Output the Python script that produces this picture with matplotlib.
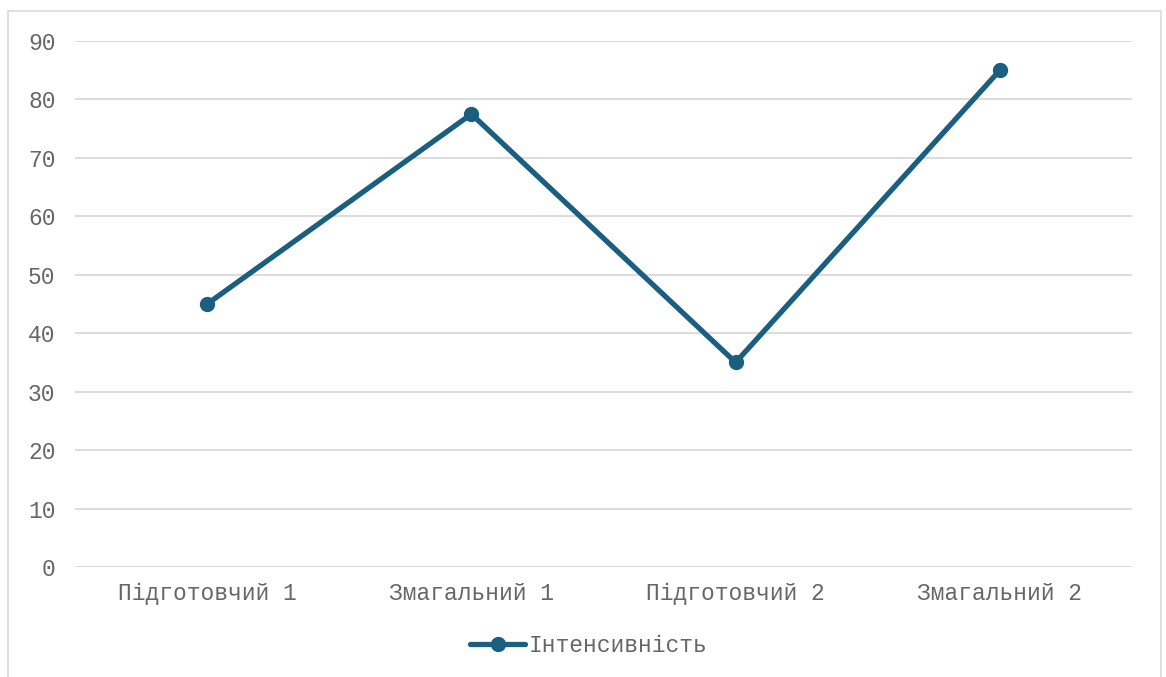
import matplotlib.pyplot as plt
from matplotlib.patches import Rectangle

categories = ["Підготовчий 1", "Змагальний 1", "Підготовчий 2", "Змагальний 2"]
intensity = [45, 77.5, 35, 85]
series_name = "Інтенсивність"

plt.rcParams['font.family'] = ['Liberation Mono', 'DejaVu Sans']

fig = plt.figure(figsize=(11.66, 6.77), dpi=100)
# outer chart border
fig.patches.append(Rectangle((8 / 1166, -0.01), 1153 / 1166, 1 - 11 / 677 + 0.01,
                             transform=fig.transFigure, fill=False,
                             edgecolor="#d9d9d9", linewidth=1.2))

ax = fig.add_axes([75 / 1166, 1 - 567 / 677, 1057 / 1166, 526 / 677])
x = range(len(categories))
ax.plot(x, intensity, color="#1a5f80", linewidth=3.8, marker="o",
        markersize=10, label=series_name, solid_capstyle="round", zorder=3)

ax.set_xlim(-0.5, len(categories) - 0.5)
ax.set_ylim(0, 90)
ax.set_yticks(range(0, 91, 10))
ax.set_xticks(list(x))
ax.set_xticklabels(categories)
ax.grid(axis="y", color="#d9d9d9", linewidth=1.3)
ax.set_axisbelow(True)
for s in ax.spines.values():
    s.set_visible(False)
ax.tick_params(axis="both", length=0, labelsize=16.5, labelcolor="#666666")
ax.tick_params(axis="y", pad=14)
ax.tick_params(axis="x", pad=11)

leg = fig.legend(loc="center", bbox_to_anchor=(589 / 1166, 1 - 646 / 677),
                 frameon=False, fontsize=16.5, handlelength=2.4, handletextpad=0.15)
for t in leg.get_texts():
    t.set_color("#666666")

fig.savefig("out.png", dpi=100)
